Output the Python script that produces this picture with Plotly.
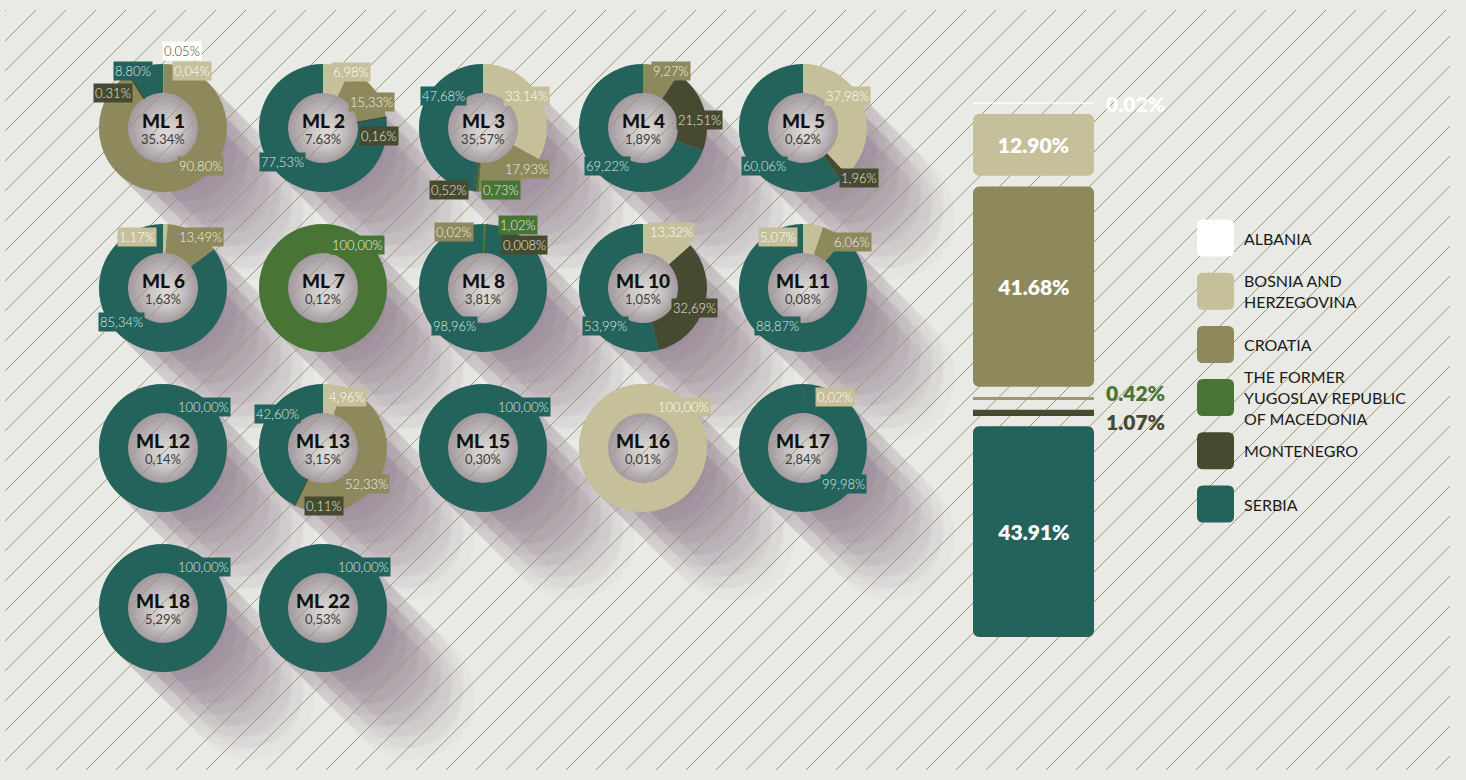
import math
import plotly.graph_objects as go

W, H = 1466, 780
BG = "#e9eae5"
HATCH = "#9c9874"
FONT = "Lato, 'Open Sans', sans-serif"

# ---------------- data ----------------
country_names = ["ALBANIA", "BOSNIA AND<br>HERZEGOVINA", "CROATIA",
                 "THE FORMER<br>YUGOSLAV REPUBLIC<br>OF MACEDONIA", "MONTENEGRO", "SERBIA"]

ml_names = ["ML 1", "ML 2", "ML 3", "ML 4", "ML 5", "ML 6", "ML 7", "ML 8", "ML 10",
            "ML 11", "ML 12", "ML 13", "ML 15", "ML 16", "ML 17", "ML 18", "ML 22"]
ml_share = ["35.34%", "7.63%", "35,57%", "1,89%", "0,62%", "1,63%", "0,12%", "3,81%", "1,05%",
            "0,08%", "0,14%", "3,15%", "0,30%", "0,01%", "2,84%", "5,29%", "0,53%"]

# share of each country inside each ML (text as printed; None = absent)
albania = ["0.05", None, None, None, None, None, None, None, None,
           None, None, None, None, None, None, None, None]
bosnia = ["0,04", "6,98", "33,14", None, "37,98", "1,17", None, None, "13,32",
          "5,07", None, "4,96", None, "100,00", "0,02", None, None]
croatia = ["90.80", "15,33", "17,93", "9,27", None, "13,49", None, "0,02", None,
           "6,06", None, "52,33", None, None, None, None, None]
macedonia = [None, None, "0,73", None, None, None, "100,00", "1,02", None,
             None, None, None, None, None, None, None, None]
montenegro = ["0.31", "0,16", "0,52", "21,51", "1,96", None, None, "0,008", "32,69",
              None, None, "0,11", None, None, None, None, None]
serbia = ["8.80", "77,53", "47,68", "69,22", "60,06", "85,34", None, "98,96", "53,99",
          "88,87", "100,00", "42,60", "100,00", None, "99,98", "100,00", "100,00"]

# overall totals (stacked bar)
total_values = [0.02, 12.90, 41.68, 0.42, 1.07, 43.91]
total_labels = ["0.02%", "12.90%", "41.68%", "0.42%", "1.07%", "43.91%"]

# ---------------- styles / layout ----------------
country_colors = ["#ffffff", "#c5bf9a", "#8e895d", "#487536", "#464a31", "#24625c"]
label_font_colors = ["#3a3a3a", "#ffffff", "#f1f0e6", "#e8f0e4", "#e9e9df", "#dcebe7"]
bar_colors = ["#ffffff", "#c5bf9a", "#8e895d", "#9d9872", "#464a31", "#24625c"]
bar_out_colors = ["#ffffff", None, None, "#487536", "#464a31", None]
bar_out_yshift = [0, 0, 0, 6, -9, 0]

GRID_X0, GRID_Y0, GRID_DX, GRID_DY = 163, 128, 160, 160
R_OUT = 64
HOLE = 0.547
R_IN = R_OUT * HOLE

# label offsets (px from donut centre), in country order of present slices
label_offsets = [
    [(19, -77), (29, -57), (37, 38), (-50, -35), (-30, -57)],   # ML 1
    [(28, -56), (48, -26), (56, 8), (-41, 34)],                 # ML 2
    [(43, -32), (43, 41), (18, 62), (-34, 62), (-40, -32)],     # ML 3
    [(28, -57), (56, -8), (-36, 38)],                           # ML 4
    [(44, -32), (56, 50), (-39, 38)],                           # ML 5
    [(-26, -51), (37, -51), (-42, 34)],                         # ML 6
    [(34, -43)],                                                # ML 7
    [(-29, -56), (35, -63), (41, -43), (-29, 38)],              # ML 8
    [(28, -56), (51, 20), (-38, 38)],                           # ML 10
    [(-25, -51), (49, -46), (-26, 38)],                         # ML 11
    [(40, -41)],                                                # ML 12
    [(24, -51), (43, 36), (1, 58), (-46, -34)],                 # ML 13
    [(40, -41)],                                                # ML 15
    [(40, -41)],                                                # ML 16
    [(32, -51), (40, 36)],                                      # ML 17
    [(40, -41)],                                                # ML 18
    [(40, -41)],                                                # ML 22
]

fig = go.Figure()
shapes = []
annotations = []


def capsule(cx, cy, r, L, n=24):
    pts = []
    ex, ey = cx + L, cy + L
    for k in range(n + 1):
        th = math.radians(-45 + 180 * k / n)
        pts.append((ex + r * math.cos(th), ey + r * math.sin(th)))
    for k in range(n + 1):
        th = math.radians(135 + 180 * k / n)
        pts.append((cx + r * math.cos(th), cy + r * math.sin(th)))
    return "M " + " L ".join(f"{x:.1f},{y:.1f}" for x, y in pts) + " Z"


def circle_shape(cx, cy, r, color):
    return dict(type="circle", xref="x", yref="y", x0=cx - r, x1=cx + r, y0=cy - r, y1=cy + r,
                fillcolor=color, line=dict(width=0), layer="below")


def rounded_rect(x0, y0, x1, y1, r):
    return (f"M {x0 + r},{y0} L {x1 - r},{y0} Q {x1},{y0} {x1},{y0 + r} "
            f"L {x1},{y1 - r} Q {x1},{y1} {x1 - r},{y1} L {x0 + r},{y1} "
            f"Q {x0},{y1} {x0},{y1 - r} L {x0},{y0 + r} Q {x0},{y0} {x0 + r},{y0} Z")


series = [albania, bosnia, croatia, macedonia, montenegro, serbia]
centres = []
for i in range(len(ml_names)):
    row, col = divmod(i, 5)
    centres.append((GRID_X0 + col * GRID_DX, GRID_Y0 + row * GRID_DY))

# soft diagonal shadows (muted mauve)
for cx, cy in centres:
    for r in (R_OUT, 52, 40):
        for L in range(11, 99, 11):
            shapes.append(dict(type="path", xref="x", yref="y", path=capsule(cx, cy, r, L),
                               fillcolor="rgba(110,84,104,0.035)", line=dict(width=0), layer="below"))
# holes (radial-ish gradient)
hole_steps = [(0, 0, 1.0, "#a69ca2"), (0.5, 1, 0.9, "#aca3a8"), (1, 2, 0.8, "#b3abaf"),
              (1.5, 2.5, 0.7, "#bab3b6"), (2, 3, 0.6, "#c1bbbd"), (2.5, 4, 0.5, "#c8c3c4"),
              (3, 5, 0.4, "#cecaca"), (3.5, 5.5, 0.3, "#d4d0d0"), (4, 6, 0.2, "#d9d6d5")]
for cx, cy in centres:
    for ox, oy, f, colr in hole_steps:
        shapes.append(circle_shape(cx + ox, cy + oy, (R_IN + 1) * f, colr))

# hatching
HX0, HY0, HX1, HY1, STEP = 5, 10, 1450, 770, 30
segs = []
c = 46 - STEP * 2
while c < HX1 + HY1:
    xa = max(HX0, c - HY1)
    xb = min(HX1, c - HY0)
    if xb > xa:
        segs.append(f"M {xa:.1f},{c - xa:.1f} L {xb:.1f},{c - xb:.1f}")
    c += STEP
shapes.append(dict(type="path", xref="x", yref="y", path=" ".join(segs),
                   line=dict(color=HATCH, width=1), layer="below"))

# donuts
for i, name in enumerate(ml_names):
    cx, cy = centres[i]
    idx = [k for k in range(6) if series[k][i] is not None]
    vals = [float(series[k][i].replace(",", ".")) for k in idx]
    cols = [country_colors[k] for k in idx]
    widths = [1.3 if v < 0.5 else 0 for v in vals]
    fig.add_trace(go.Pie(
        values=vals, labels=[country_names[k].replace("<br>", " ") for k in idx],
        marker=dict(colors=cols, line=dict(color=cols, width=widths)),
        hole=HOLE, sort=False, direction="clockwise", rotation=0,
        textinfo="none", showlegend=False, name=name,
        domain=dict(x=[(cx - R_OUT) / W, (cx + R_OUT) / W],
                    y=[1 - (cy + R_OUT) / H, 1 - (cy - R_OUT) / H])))
    annotations.append(dict(xref="x", yref="y", x=cx, y=cy - 8, text=name, showarrow=False,
                            font=dict(family=FONT, size=19, color="#111111", weight=900)))
    annotations.append(dict(xref="x", yref="y", x=cx, y=cy + 11, text=ml_share[i], showarrow=False,
                            font=dict(family=FONT, size=13, color="#3b3b3b")))
    for j, k in enumerate(idx):
        dx, dy = label_offsets[i][j]
        annotations.append(dict(xref="x", yref="y", x=cx + dx, y=cy + dy,
                                text=series[k][i] + "%", showarrow=False,
                                bgcolor=country_colors[k], borderpad=1,
                                font=dict(family=FONT, size=13, color=label_font_colors[k], weight=300)))

# stacked bar with gaps
GAP = 2.25
bases = [0.0] * 6
b = 0.0
for k in reversed(range(6)):
    bases[k] = b
    b += total_values[k] + GAP
for k in range(6):
    big = total_values[k] > 5
    fig.add_trace(go.Bar(
        x=[0], y=[total_values[k]], base=[bases[k]], width=[1], xaxis="x2", yaxis="y2",
        marker=dict(color=bar_colors[k], cornerradius=6 if big else 0,
                    line=dict(color=bar_colors[k], width=0 if big else 1.2)),
        text=[total_labels[k]] if big else None, textposition="inside" if big else "none",
        insidetextanchor="middle", textangle=0,
        textfont=dict(family=FONT, size=21, color="#ffffff", weight=800),
        showlegend=False, name=country_names[k].replace("<br>", " ")))
    if not big:
        annotations.append(dict(xref="x2", yref="y2", x=0.5, y=bases[k] + total_values[k] / 2,
                                xanchor="left", xshift=10, yshift=bar_out_yshift[k],
                                text=total_labels[k], showarrow=False,
                                font=dict(family=FONT, size=21, color=bar_out_colors[k], weight=800)))

# legend
LEG_X0, LEG_Y0, LEG_DY, LEG_S = 1197, 238, 53.2, 37
for k, nm in enumerate(country_names):
    yc = LEG_Y0 + k * LEG_DY
    shapes.append(dict(type="path", xref="x", yref="y",
                       path=rounded_rect(LEG_X0, yc - LEG_S / 2, LEG_X0 + LEG_S, yc + LEG_S / 2, 6),
                       fillcolor=country_colors[k], line=dict(width=0), layer="below"))
    annotations.append(dict(xref="x", yref="y", x=LEG_X0 + LEG_S + 8, y=yc,
                            text=nm, showarrow=False, xanchor="left", align="left",
                            font=dict(family=FONT, size=16, color="#1b1b1b")))

BAR_TOP, BAR_BOT = 100, 637
fig.update_layout(
    width=W, height=H, margin=dict(l=0, r=0, t=0, b=0),
    paper_bgcolor=BG, plot_bgcolor="rgba(0,0,0,0)",
    xaxis=dict(range=[0, W], domain=[0, 1], visible=False, fixedrange=True),
    yaxis=dict(range=[H, 0], domain=[0, 1], visible=False, fixedrange=True),
    xaxis2=dict(range=[-0.5, 0.5], domain=[973 / W, 1094 / W], visible=False, anchor="y2"),
    yaxis2=dict(range=[0, (BAR_BOT - BAR_TOP) / 4.8], domain=[1 - BAR_BOT / H, 1 - BAR_TOP / H],
                visible=False, anchor="x2"),
    barmode="overlay",
    shapes=shapes, annotations=annotations, showlegend=False,
)

fig.write_html("out.html", config={"displayModeBar": False},
               post_script="document.body.style.margin='0px';document.body.style.overflow='hidden';")
